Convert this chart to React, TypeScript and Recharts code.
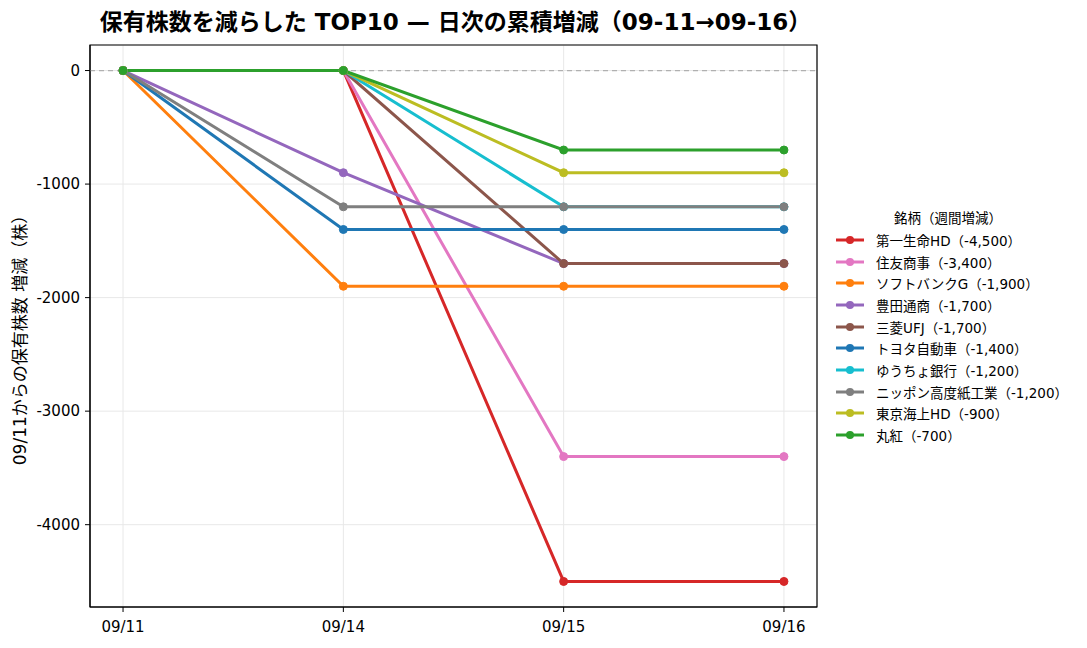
import React from 'react'
import { LineChart, Line, XAxis, YAxis, CartesianGrid, ReferenceLine, ReferenceArea } from 'recharts'

const dates = ['09/11', '09/14', '09/15', '09/16']
const yTicks = [0, -1000, -2000, -3000, -4000]

const names = ['第一生命HD', '住友商事', 'ソフトバンクG', '豊田通商', '三菱UFJ', 'トヨタ自動車', 'ゆうちょ銀行', 'ニッポン高度紙工業', '東京海上HD', '丸紅']
const colors = ['#d62728', '#e377c2', '#ff7f0e', '#9467bd', '#8c564b', '#1f77b4', '#17becf', '#7f7f7f', '#bcbd22', '#2ca02c']
const totals = ['-4,500', '-3,400', '-1,900', '-1,700', '-1,700', '-1,400', '-1,200', '-1,200', '-900', '-700']

const daiichi = [0, 0, -4500, -4500]
const sumitomo = [0, 0, -3400, -3400]
const softbank = [0, -1900, -1900, -1900]
const toyotsu = [0, -900, -1700, -1700]
const mufg = [0, 0, -1700, -1700]
const toyota = [0, -1400, -1400, -1400]
const yucho = [0, 0, -1200, -1200]
const nippon = [0, -1200, -1200, -1200]
const tokiomarine = [0, 0, -900, -900]
const marubeni = [0, 0, -700, -700]

const series = [daiichi, sumitomo, softbank, toyotsu, mufg, toyota, yucho, nippon, tokiomarine, marubeni]

const data = dates.map((d, i) => {
  const row: Record<string, number | string> = { idx: i, date: d }
  series.forEach((s, k) => { row['s' + k] = s[i] })
  return row
})

const font = '"DejaVu Sans", "Noto Sans CJK JP", sans-serif'

export default function App() {
  return (
    <div style={{ position: 'absolute', left: 0, top: 0, width: 1087, height: 648, background: '#fff', fontFamily: font }}>
      <div style={{ position: 'absolute', left: 0, width: 911, top: 3, textAlign: 'center', fontSize: 23, fontWeight: 700, fontFamily: font, color: '#000', whiteSpace: 'nowrap' }}>
        保有株数を減らした TOP10 — 日次の累積増減（09-11→09-16）
      </div>
      <div style={{ position: 'absolute', left: 18, top: 336, transform: 'translate(-50%, -50%) rotate(-90deg)', whiteSpace: 'nowrap', fontSize: 17, fontFamily: font }}>
        09/11からの保有株数 増減（株）
      </div>
      <LineChart width={1087} height={648} data={data} margin={{ top: 45, right: 270, bottom: 16, left: 30 }}>
        <CartesianGrid stroke="#e8e8e8" horizontal={true} vertical={true} />
        <XAxis
          dataKey="idx"
          type="number"
          domain={[-0.15, 3.15]}
          ticks={[0, 1, 2, 3]}
          tickFormatter={(v: number) => dates[v]}
          height={25}
          stroke="#000"
          tick={{ fill: '#000', fontSize: 15, fontFamily: font }}
          tickSize={5}
          tickMargin={9}
        />
        <YAxis
          type="number"
          domain={[-4725, 225]}
          ticks={yTicks}
          width={60}
          stroke="#000"
          tick={{ fill: '#000', fontSize: 15, fontFamily: font }}
          tickSize={5}
          tickMargin={5}
        />
        <ReferenceLine y={0} stroke="#b0b0b0" strokeDasharray="5 4" strokeWidth={1.2} />
        {series.map((_, k) => (
          <Line
            key={k}
            dataKey={'s' + k}
            name={names[k]}
            stroke={colors[k]}
            strokeWidth={3}
            dot={{ r: 4, fill: colors[k], stroke: colors[k], strokeWidth: 1 }}
            activeDot={false}
            isAnimationActive={false}
            type="linear"
          />
        ))}
        <ReferenceArea x1={-0.15} x2={3.15} y1={-4725} y2={225} fill="none" stroke="#000" strokeWidth={1.2} ifOverflow="visible" />
      </LineChart>
      <div style={{ position: 'absolute', left: 832, top: 207, fontSize: 13.5, fontFamily: font, color: '#000' }}>
        <div style={{ textAlign: 'center', width: 232, height: 22 }}>銘柄（週間増減）</div>
        {names.map((n, k) => (
          <div key={n} style={{ display: 'flex', alignItems: 'center', height: 21.7, whiteSpace: 'nowrap' }}>
            <svg width={40} height={12} style={{ marginLeft: 2, marginRight: 2 }}>
              <line x1={2} y1={6} x2={30} y2={6} stroke={colors[k]} strokeWidth={3} />
              <circle cx={16} cy={6} r={4} fill={colors[k]} />
            </svg>
            <span>{n}（{totals[k]}）</span>
          </div>
        ))}
      </div>
    </div>
  )
}
